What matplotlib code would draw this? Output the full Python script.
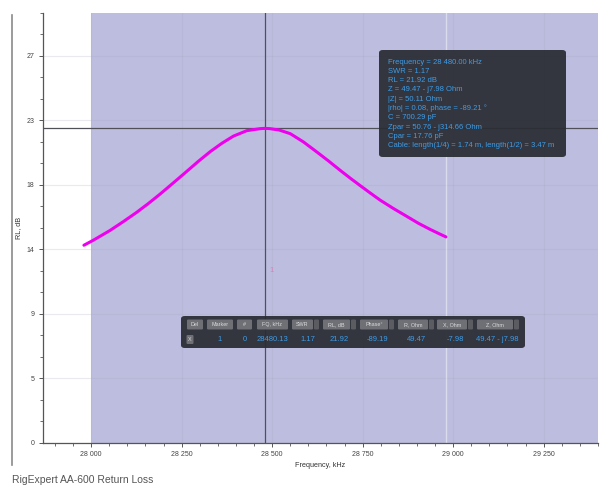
import matplotlib
matplotlib.use("Agg")
import matplotlib.pyplot as plt
import matplotlib.ticker as ticker
from matplotlib.patches import FancyBboxPatch
from matplotlib.lines import Line2D

plt.rcParams['font.family'] = ['Liberation Sans', 'DejaVu Sans']

# sweep data
freq_khz = [27980, 28006, 28052, 28089, 28126, 28158, 28191, 28227, 28264,
            28296, 28329, 28361, 28393, 28430, 28467, 28480, 28494, 28520,
            28550, 28586, 28623, 28656, 28688, 28715, 28743, 28771, 28798,
            28835, 28872, 28904, 28936, 28959, 28980]
rl_db = [13.77, 14.12, 14.8, 15.42, 16.07, 16.68, 17.35, 18.12, 18.92,
         19.62, 20.3, 20.88, 21.38, 21.76, 21.9, 21.92, 21.9, 21.8,
         21.55, 20.98, 20.28, 19.64, 18.99, 18.46, 17.93, 17.41, 16.92,
         16.33, 15.78, 15.3, 14.88, 14.6, 14.35]

band_start, band_end = 28000, 29700
sweep_end = 28980
marker_f, marker_rl = 28480, 21.92

x_ticks = [28000, 28250, 28500, 28750, 29000, 29250]
y_ticks = [0, 4.5, 9, 13.5, 18, 22.5, 27]
y_tick_labels = ['0', '5', '9', '14', '18', '23', '27']

info_lines = [
    "Frequency = 28 480.00 kHz",
    "SWR = 1.17",
    "RL = 21.92 dB",
    "Z = 49.47 - j7.98 Ohm",
    "|Z| = 50.11 Ohm",
    "|rho| = 0.08, phase = -89.21 °",
    "C = 700.29 pF",
    "Zpar = 50.76 - j314.66 Ohm",
    "Cpar = 17.76 pF",
    "Cable: length(1/4) = 1.74 m, length(1/2) = 3.47 m",
]

table_headers = ["Del", "Marker", "#", "FQ, kHz", "SWR", "RL, dB",
                 "Phase°", "R, Ohm", "X, Ohm", "Z, Ohm"]
table_row = ["X", "1", "0", "28480.13", "1.17", "21.92",
             "-89.19", "49.47", "-7.98", "49.47 - j7.98"]

W, H = 608, 488


def fx(px):
    return px / W


def fy(py):
    return 1 - py / H


fig = plt.figure(figsize=(W / 100, H / 100), dpi=100)
ax = fig.add_axes([fx(43), fy(442.7), fx(598) - fx(43), fy(12.5) - fy(442.7)])

# amateur band shading
ax.axvspan(band_start, band_end, color='#bdbedf', lw=0, zorder=0)
ax.axvline(sweep_end, color='white', alpha=0.45, lw=1.0, zorder=1)

ax.plot(freq_khz, rl_db, color='#ee00ee', lw=2.2, solid_capstyle='round',
        solid_joinstyle='round', zorder=3)

# marker crosshair
ax.axhline(marker_rl, color='#505058', lw=0.9, zorder=2)
ax.axvline(marker_f, color='#505058', lw=0.9, zorder=2)
ax.annotate("1", (marker_f, 12.0), xytext=(5, 0), textcoords='offset points',
            color='#e070b0', fontsize=5.5, ha='center', va='center', alpha=0.8)

ax.set_xlim(27867, 29400)
ax.set_ylim(0, 30)

ax.set_xticks(x_ticks)
ax.xaxis.set_major_formatter(
    ticker.FuncFormatter(lambda v, p: f"{int(v):,}".replace(",", " ")))
ax.xaxis.set_minor_locator(ticker.MultipleLocator(50))
ax.set_yticks(y_ticks)
ax.set_yticklabels(y_tick_labels)
ax.yaxis.set_minor_locator(ticker.MultipleLocator(1.5))

ax.grid(True, which='major', color='#a8a8c0', alpha=0.25, lw=0.8)
ax.set_axisbelow(True)

for s in ['top', 'right']:
    ax.spines[s].set_visible(False)
for s in ['left', 'bottom']:
    ax.spines[s].set_color('#555555')
    ax.spines[s].set_linewidth(0.9)

ax.tick_params(which='major', length=3, width=0.7, colors='#555555',
               labelsize=5, labelcolor='#444444', pad=3)
ax.tick_params(which='minor', length=2, width=0.6, colors='#555555')

ax.set_xlabel("Frequency, kHz", fontsize=5.2, color='#333333', labelpad=3)
ax.set_ylabel("RL, dB", fontsize=5.2, color='#333333', labelpad=3)

# info box
fig.patches.append(FancyBboxPatch(
    (fx(379), fy(157)), fx(566) - fx(379), fy(50) - fy(157),
    boxstyle="round,pad=0,rounding_size=0.006", transform=fig.transFigure,
    facecolor='#2c2e36', edgecolor='none', alpha=0.95, zorder=5))
for i, line in enumerate(info_lines):
    fig.text(fx(388), fy(62 + i * 9.3), line, color='#3d9de8',
             fontsize=5.5, va='center', ha='left', zorder=6)

# marker table
fig.patches.append(FancyBboxPatch(
    (fx(181), fy(348)), fx(525) - fx(181), fy(316) - fy(348),
    boxstyle="round,pad=0,rounding_size=0.006", transform=fig.transFigure,
    facecolor='#2c2e36', edgecolor='none', alpha=0.95, zorder=5))

hdr_spans = [(187, 203, False), (207, 233, False), (237, 252, False),
             (257, 288, False), (292, 313, True), (323, 350, True),
             (360, 388, True), (398, 428, True), (437, 467, True),
             (477, 513, True)]
row_x = [190, 220, 245, 272, 308, 339, 377, 416, 455, 497]
for (x0, x1, drop), label in zip(hdr_spans, table_headers):
    fig.patches.append(FancyBboxPatch(
        (fx(x0), fy(329.5)), fx(x1) - fx(x0), fy(319.5) - fy(329.5),
        boxstyle="round,pad=0,rounding_size=0.002", transform=fig.transFigure,
        facecolor='#6e7076', edgecolor='none', zorder=6))
    fig.text(fx((x0 + x1) / 2), fy(324.5), label, color='#dcdcdc',
             fontsize=3.9, ha='center', va='center', zorder=7)
    if drop:
        fig.patches.append(FancyBboxPatch(
            (fx(x1 + 1), fy(329.5)), fx(5), fy(319.5) - fy(329.5),
            boxstyle="round,pad=0,rounding_size=0.002", transform=fig.transFigure,
            facecolor='#5a5c62', edgecolor='none', zorder=6))

fig.patches.append(FancyBboxPatch(
    (fx(186.5), fy(344)), fx(7), fy(335) - fy(344),
    boxstyle="round,pad=0,rounding_size=0.002", transform=fig.transFigure,
    facecolor='#6e7076', edgecolor='none', zorder=6))
for x, val in zip(row_x, table_row):
    color = '#dcdcdc' if val == "X" else '#3d9de8'
    size = 3.9 if val == "X" else 5.5
    fig.text(fx(x), fy(339.5), val, color=color, fontsize=size,
             ha='center', va='center', zorder=7)

# page decoration around the screenshot
fig.add_artist(Line2D([fx(12), fx(12)], [fy(15), fy(465)],
                      color='#8a8a8a', lw=1.2, transform=fig.transFigure))
fig.text(fx(12), fy(480), "RigExpert AA-600 Return Loss", color='#555555',
         fontsize=7.5, ha='left', va='center')

fig.savefig("out.png", dpi=100)
